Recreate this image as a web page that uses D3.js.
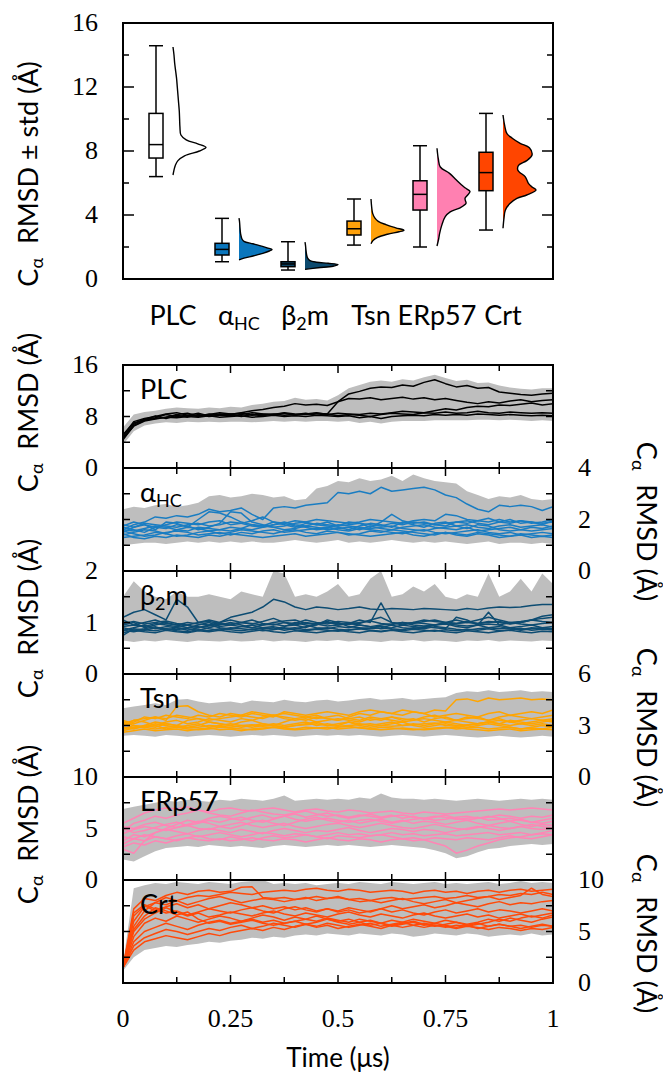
<!DOCTYPE html>
<html><head><meta charset="utf-8">
<script src="https://cdn.jsdelivr.net/npm/d3@7"></script>
<style>body{margin:0;background:#fff}svg{display:block}</style>
</head><body>
<svg id="chart" width="663" height="1078"></svg>
<script>
// ---------------- DATA ----------------
const categories = ["PLC", "αHC", "β2m", "Tsn", "ERp57", "Crt"];
const boxColors = ["#ffffff", "#0a76bd", "#0c4a6e", "#ffa10a", "#ff80b1", "#ff4500"];
const lineColors = ["#000000", "#1a7dc2", "#0d4c72", "#ffa500", "#ff85b5", "#ff4a0a"];
// [lower whisker, q1, median, q3, upper whisker]
const boxStats = [
  [6.4, 7.56, 8.4, 10.35, 14.58],
  [1.08, 1.5, 1.85, 2.23, 3.79],
  [0.56, 0.77, 0.94, 1.08, 2.33],
  [2.12, 2.75, 3.14, 3.62, 5.0],
  [2.0, 4.31, 5.29, 6.14, 8.33],
  [3.06, 5.52, 6.65, 7.92, 10.35]
];
// half-violin density: [value, relative width]
const violinPLC = [[6.5,0],[6.8,0.03],[7.1,0.07],[7.4,0.15],[7.7,0.35],[8.0,0.8],[8.23,1.0],[8.45,0.75],[8.7,0.4],[9.0,0.24],[9.5,0.21],[10.0,0.2],[10.5,0.19],[11.0,0.17],[11.5,0.15],[12.0,0.13],[12.5,0.11],[13.0,0.08],[13.5,0.05],[14.0,0.03],[14.5,0]];
const violinHC = [[1.2,0],[1.3,0.15],[1.45,0.45],[1.6,0.72],[1.75,0.92],[1.85,1.0],[1.95,0.85],[2.1,0.6],[2.2,0.42],[2.35,0.15],[2.5,0.09],[2.8,0.05],[3.2,0.03],[3.6,0.015],[3.8,0]];
const violinB2m = [[0.6,0],[0.7,0.4],[0.8,0.85],[0.9,1.0],[0.98,0.7],[1.05,0.35],[1.15,0.15],[1.3,0.08],[1.5,0.05],[1.8,0.03],[2.1,0.015],[2.3,0]];
const violinTsn = [[2.2,0],[2.4,0.06],[2.6,0.2],[2.8,0.5],[2.95,0.85],[3.05,1.0],[3.2,0.75],[3.4,0.45],[3.6,0.22],[3.8,0.12],[4.1,0.05],[4.5,0.02],[5.0,0]];
const violinERp57 = [[2.06,0],[2.5,0.05],[2.85,0.08],[3.4,0.15],[3.9,0.25],[4.2,0.4],[4.45,0.7],[4.73,0.88],[4.9,0.86],[5.05,0.85],[5.25,0.93],[5.47,1.0],[5.7,0.85],[5.9,0.73],[6.2,0.58],[6.6,0.38],[7.0,0.1],[7.5,0.04],[8.17,0]];
const violinCrt = [[3.17,0],[3.8,0.03],[4.3,0.07],[4.7,0.2],[5.04,0.42],[5.25,0.72],[5.56,1.0],[5.75,0.88],[5.98,0.77],[6.2,0.72],[6.4,0.67],[6.8,0.45],[7.1,0.47],[7.4,0.72],[7.75,0.88],[8.2,0.8],[8.48,0.52],[8.8,0.28],[9.08,0.12],[9.6,0.05],[10.25,0]];
const violins = [violinPLC, violinHC, violinB2m, violinTsn, violinERp57, violinCrt];
const topTicks = [0, 4, 8, 12, 16];

const times = [0,0.025,0.05,0.075,0.1,0.125,0.15,0.175,0.2,0.225,0.25,0.275,0.3,0.325,0.35,0.375,0.4,0.425,0.45,0.475,0.5,0.525,0.55,0.575,0.6,0.625,0.65,0.675,0.7,0.725,0.75,0.775,0.8,0.825,0.85,0.875,0.9,0.925,0.95,0.975,1];
const timeTicks = [0, 0.25, 0.5, 0.75, 1];

const plcLines = [
 [4.6,6.5,7.3,7.6,7.9,7.8,8.0,7.9,8.1,7.9,8.0,8.1,7.9,8.0,8.2,8.0,8.1,8.0,8.2,8.1,8.0,8.1,7.8,8.0,7.7,8.0,8.1,8.2,8.1,8.3,8.2,8.3,8.2,8.4,8.3,8.2,8.3,8.2,8.1,8.2,8.1],
 [5.2,7.0,7.5,8.1,7.7,8.2,7.9,8.3,8.0,8.2,8.4,8.0,8.3,8.1,8.4,8.2,8.3,8.5,8.2,8.4,8.1,8.3,8.2,8.0,8.3,8.5,8.4,8.3,8.6,8.5,8.7,8.5,8.6,8.8,8.6,8.5,8.7,8.6,8.5,8.6,8.5],
 [4.8,6.8,7.6,7.8,8.3,8.0,8.2,8.0,8.4,8.2,8.1,8.3,8.6,8.4,8.3,8.5,8.2,8.4,8.6,8.3,8.5,8.4,8.3,8.5,8.4,8.6,8.8,8.7,8.6,8.9,9.2,9.0,9.4,9.6,9.5,9.8,9.7,9.9,10.1,9.8,10.0],
 [5.0,7.2,7.7,8.0,8.4,8.6,8.2,8.5,8.1,8.4,8.3,8.6,8.9,9.1,9.4,9.6,10.0,9.8,9.9,9.7,10.3,10.8,10.7,10.9,10.6,10.8,11.0,10.7,10.9,10.6,10.8,10.5,10.2,10.0,10.3,10.1,10.4,10.6,10.3,10.5,10.6],
 [4.4,6.6,7.4,7.7,7.9,8.3,8.5,8.1,8.3,8.6,8.4,8.5,8.2,8.4,8.3,8.6,8.4,8.3,8.5,8.4,10.3,11.5,11.9,12.4,12.6,12.5,12.9,12.7,13.3,13.7,13.1,12.6,12.8,12.4,12.5,11.8,11.6,11.4,11.3,11.5,11.6]
];
const plcUpper = [6.3,8.3,8.7,8.9,9.2,9.4,9.3,9.2,9.4,9.3,9.5,9.4,9.8,10.0,10.3,10.4,10.9,10.6,10.7,10.5,11.3,12.4,12.9,13.4,13.6,13.4,13.8,13.6,14.1,14.5,14.0,13.5,13.7,13.2,13.3,12.8,12.5,12.3,12.2,12.4,12.4];
const plcLower = [3.6,5.7,6.6,6.9,7.1,7.0,7.2,7.1,7.2,7.1,7.2,7.2,7.1,7.2,7.3,7.2,7.3,7.2,7.3,7.3,7.2,7.3,7.0,7.2,6.9,7.2,7.3,7.3,7.3,7.4,7.4,7.4,7.4,7.5,7.5,7.4,7.5,7.4,7.3,7.4,7.3];

const hcLines = [
 [1.6,1.8,1.9,2.1,2.05,2.15,2.1,2.2,2.4,2.3,2.35,2.45,2.2,2.0,2.45,2.5,2.45,2.55,2.6,2.65,3.05,3.0,3.1,3.0,3.25,3.1,3.15,3.2,3.25,3.15,2.95,2.85,2.6,2.4,2.3,2.55,2.5,2.55,2.5,2.35,2.5],
 [1.5,1.7,1.8,1.6,1.9,1.85,1.7,2.0,2.3,2.25,2.1,1.9,1.8,1.75,1.9,1.8,1.7,1.85,1.8,1.9,1.75,1.8,1.85,1.7,1.9,2.2,1.95,1.85,1.9,1.8,1.75,1.9,1.95,1.85,1.8,1.9,2.0,1.85,1.9,1.8,1.95],
 [1.7,1.6,1.5,1.7,1.65,1.8,1.75,1.6,1.7,1.85,2.3,2.25,1.9,1.8,1.7,1.75,1.85,1.9,1.8,1.75,1.7,1.6,1.75,1.85,1.8,1.7,1.9,1.8,1.7,1.85,1.9,1.75,1.8,1.7,1.65,1.75,1.8,1.7,1.75,1.8,1.7],
 [1.4,1.5,1.6,1.55,1.45,1.6,1.7,1.65,1.55,1.6,1.7,1.65,1.8,1.75,1.7,1.6,1.65,1.75,1.7,1.6,1.65,1.7,1.6,1.75,1.65,1.6,1.7,1.75,1.8,1.7,1.65,1.6,1.7,1.55,1.6,1.65,1.7,1.6,1.55,1.6,1.65],
 [1.3,1.35,1.4,1.5,1.45,1.35,1.4,1.5,1.55,1.45,1.5,1.6,1.55,1.5,1.45,1.55,1.6,1.5,1.45,1.55,1.5,1.4,1.45,1.55,1.5,1.6,1.55,1.5,1.45,1.4,1.5,1.45,1.4,1.5,1.45,1.4,1.35,1.45,1.4,1.35,1.4],
 [1.75,1.9,1.8,1.7,1.8,1.9,1.85,1.8,1.9,1.95,1.8,1.85,1.95,2.1,1.9,1.85,1.95,1.9,2.0,1.95,1.9,1.85,1.9,2.0,1.95,1.9,1.85,1.95,2.0,1.95,2.2,2.15,2.0,1.95,2.05,1.9,1.85,1.95,1.9,1.85,1.9],
 [1.55,1.45,1.35,1.4,1.5,1.55,1.5,1.4,1.45,1.5,1.4,1.5,1.45,1.55,1.6,1.5,1.55,1.6,1.65,1.7,1.6,1.55,1.65,1.6,1.55,1.5,1.45,1.55,1.6,1.5,1.45,1.5,1.55,1.6,1.5,1.45,1.5,1.4,1.45,1.5,1.45],
 [1.6,1.55,1.65,1.75,1.7,1.6,1.55,1.7,1.65,1.6,1.55,1.65,1.6,1.7,1.8,1.85,1.75,1.7,1.6,1.65,1.8,1.75,1.7,1.65,1.7,1.75,1.65,1.6,1.55,1.65,1.7,1.75,1.65,1.8,1.75,1.6,1.55,1.6,1.7,1.65,1.75],
 [1.45,1.3,1.25,1.35,1.3,1.4,1.35,1.3,1.4,1.35,1.45,1.4,1.35,1.3,1.35,1.4,1.45,1.35,1.4,1.45,1.5,1.45,1.4,1.35,1.4,1.45,1.5,1.4,1.35,1.45,1.5,1.4,1.35,1.45,1.4,1.3,1.35,1.4,1.3,1.35,1.3],
 [1.8,1.7,1.85,1.8,1.75,1.7,1.8,1.85,1.75,1.8,1.9,1.85,1.75,1.7,1.8,1.9,1.8,1.75,1.85,1.8,1.75,1.9,1.85,1.8,1.75,1.85,1.8,1.9,1.85,1.8,1.85,1.9,1.85,1.95,1.9,2.0,1.9,1.95,1.85,1.9,2.0]
];
const hcUpper = [2.4,2.5,2.45,2.55,2.6,2.5,2.55,2.65,2.9,2.95,2.85,2.9,3.0,2.95,2.85,2.9,2.75,2.8,3.2,3.3,3.5,3.45,3.6,3.5,3.55,3.7,3.5,3.75,3.6,3.5,3.45,3.4,3.1,2.95,2.8,2.9,2.85,2.95,2.8,2.75,2.8];
const hcLower = [1.0,1.05,1.1,1.1,1.05,1.1,1.15,1.1,1.15,1.1,1.15,1.1,1.15,1.1,1.1,1.15,1.2,1.15,1.1,1.15,1.2,1.1,1.15,1.1,1.15,1.2,1.15,1.1,1.15,1.1,1.15,1.1,1.05,1.1,1.15,1.05,1.1,1.1,1.05,1.1,1.05];

const b2mLines = [
 [1.1,1.2,1.25,1.15,1.05,1.45,1.3,1.0,1.05,1.0,1.1,1.15,1.2,1.3,1.45,1.4,1.3,1.25,1.3,1.28,1.25,1.27,1.3,1.26,1.25,1.27,1.26,1.25,1.27,1.26,1.25,1.24,1.27,1.25,1.28,1.3,1.29,1.3,1.33,1.35,1.35],
 [0.95,1.0,0.9,0.95,1.0,0.95,0.9,0.95,1.0,0.92,0.95,1.0,1.05,0.98,0.95,1.0,0.95,0.9,0.98,1.02,0.95,0.98,1.05,1.0,1.38,1.0,0.95,1.0,0.98,0.95,1.0,1.05,1.0,0.98,1.02,1.0,0.97,1.0,1.05,1.02,1.0],
 [0.85,0.9,0.95,0.88,0.92,0.9,0.85,0.9,0.95,0.9,0.88,0.92,0.95,0.9,0.87,0.92,1.0,0.95,0.9,0.88,0.92,0.9,0.95,0.92,0.88,0.9,0.95,0.92,0.9,0.95,0.98,0.92,0.9,0.95,1.2,0.95,0.9,0.92,0.95,0.9,0.92],
 [0.9,0.85,0.88,0.92,0.85,0.9,0.88,0.85,0.9,0.95,1.0,0.95,0.9,0.88,0.9,0.85,0.88,0.92,0.95,1.05,1.0,0.92,0.9,0.88,0.9,0.95,0.9,0.88,0.92,0.9,0.88,1.1,1.05,0.95,0.9,0.88,0.9,0.85,0.88,0.9,0.88],
 [0.8,0.85,0.82,0.8,0.85,0.82,0.8,0.84,0.82,0.85,0.82,0.8,0.83,0.86,0.82,0.8,0.84,0.82,0.8,0.83,0.85,0.82,0.8,0.84,0.82,0.85,0.82,0.8,0.83,0.85,0.82,0.8,0.84,0.82,0.8,0.83,0.85,0.82,0.8,0.83,0.82],
 [1.05,0.95,1.0,1.05,0.98,0.95,1.0,0.97,0.95,1.0,1.05,1.0,0.97,1.02,1.08,1.0,0.98,1.05,1.0,0.97,1.02,1.0,0.98,1.05,1.1,1.0,0.97,1.0,1.05,1.02,1.0,0.98,1.0,1.05,1.1,1.05,1.0,1.02,1.05,1.08,1.1],
 [0.75,0.88,0.85,0.9,0.88,0.86,0.9,0.92,0.88,0.85,0.9,0.88,0.86,0.9,0.92,0.88,0.9,0.86,0.88,0.9,0.87,0.85,0.88,0.9,0.93,0.88,0.86,0.9,0.88,0.92,0.9,0.87,0.85,0.88,0.9,0.92,0.88,0.86,0.9,0.88,0.86],
 [0.92,0.95,0.92,0.98,0.95,0.92,0.95,0.9,0.93,0.97,0.95,0.92,0.9,0.95,0.97,0.93,0.95,1.0,0.97,0.93,0.95,0.98,0.95,0.92,0.95,0.97,1.0,0.95,0.93,0.95,0.97,0.95,0.93,0.95,0.97,0.95,1.0,0.97,0.95,0.98,1.0],
 [0.85,0.82,0.86,0.84,0.88,0.84,0.82,0.86,0.84,0.88,0.86,0.84,0.87,0.84,0.86,0.9,0.86,0.84,0.87,0.85,0.83,0.86,0.88,0.85,0.83,0.86,0.84,0.87,0.85,0.83,0.86,0.84,0.87,0.85,0.88,0.84,0.86,0.89,0.85,0.87,0.86],
 [0.98,1.02,0.97,1.0,1.03,0.98,0.95,1.0,1.02,0.98,0.97,1.0,0.98,0.95,1.0,1.03,1.05,0.98,0.96,1.0,0.98,0.96,1.0,1.03,0.98,0.96,1.0,0.98,1.02,1.05,1.0,0.98,1.02,0.98,1.0,1.02,0.98,1.0,1.05,1.12,1.15]
];
const b2mUpper = [1.5,1.8,1.6,1.5,1.45,1.6,1.5,1.5,1.55,1.5,1.45,1.6,1.55,1.5,2.0,1.95,1.5,1.55,1.5,1.6,1.75,1.5,1.55,1.85,2.0,1.5,1.55,1.7,1.6,1.75,1.5,1.45,1.55,1.5,1.95,1.5,1.6,1.85,1.6,1.95,1.75];
const b2mLower = [0.65,0.62,0.65,0.63,0.66,0.64,0.62,0.65,0.64,0.63,0.65,0.63,0.64,0.66,0.63,0.65,0.64,0.62,0.65,0.64,0.66,0.63,0.65,0.64,0.62,0.65,0.64,0.66,0.63,0.65,0.64,0.62,0.65,0.64,0.66,0.63,0.65,0.64,0.63,0.65,0.64];

const tsnLines = [
 [3.0,3.2,3.5,3.4,3.6,3.5,3.4,3.6,3.5,3.7,3.6,3.5,3.7,3.6,3.5,3.8,3.7,3.6,3.7,3.8,3.7,3.6,3.8,3.9,3.8,3.7,3.9,3.8,3.7,3.9,3.85,4.5,4.55,4.4,4.6,4.5,4.55,4.6,4.5,4.55,4.5],
 [3.1,3.3,3.4,3.5,3.3,4.1,4.15,3.8,3.6,3.5,3.7,3.6,3.5,3.4,3.6,3.5,3.4,3.3,3.5,3.4,3.3,3.4,3.5,3.3,3.4,3.5,3.3,3.4,3.2,3.4,3.5,3.3,3.4,3.5,3.3,3.4,3.2,3.3,3.4,3.3,3.4],
 [2.8,2.9,3.0,2.9,3.1,3.0,2.9,3.0,3.2,3.1,3.0,3.2,3.3,3.1,3.0,3.2,3.4,3.5,3.6,3.4,3.3,3.5,3.7,3.6,3.8,3.7,3.6,3.8,3.7,3.5,3.6,3.7,3.6,3.5,3.7,3.8,3.6,3.7,3.8,3.7,3.9],
 [3.2,3.0,2.9,3.1,3.0,2.9,3.0,3.1,2.9,3.0,3.1,3.0,2.9,3.0,3.1,3.0,3.1,3.2,3.0,3.1,3.0,3.2,3.1,3.0,3.1,3.2,3.0,3.1,3.0,3.1,3.2,3.1,3.0,3.1,3.2,3.1,3.0,3.1,3.0,3.1,3.0],
 [2.6,2.7,2.8,2.7,2.75,2.8,2.7,2.8,2.85,2.75,2.8,2.7,2.8,2.85,2.9,2.8,2.75,2.8,2.85,2.9,2.8,2.85,2.9,2.8,2.75,2.8,2.85,2.8,2.75,2.8,2.85,2.9,2.8,2.75,2.7,2.75,2.8,2.7,2.75,2.8,2.75],
 [3.0,3.3,3.2,3.0,3.2,3.3,3.1,3.2,3.4,3.3,3.2,3.4,3.3,3.5,3.6,3.4,3.3,3.4,3.2,3.3,3.4,3.3,3.2,3.4,3.3,3.5,3.4,3.3,3.5,3.6,3.4,3.3,3.5,3.4,3.3,3.5,3.6,3.5,3.4,3.5,3.6],
 [2.9,2.8,3.0,3.2,3.1,3.0,3.3,3.4,3.2,3.1,3.0,2.9,3.0,3.1,3.0,2.9,3.0,3.1,3.2,3.0,3.1,3.2,3.0,2.9,3.0,3.1,3.2,3.0,2.9,3.0,3.1,3.0,2.9,3.0,3.1,3.0,2.9,2.8,2.9,3.0,2.9],
 [2.7,2.85,2.9,2.8,2.9,2.95,2.85,2.9,3.0,2.95,2.9,3.0,3.05,2.95,3.0,2.9,3.0,3.05,3.1,3.0,2.95,3.0,3.05,3.1,3.0,2.95,3.0,3.05,3.1,3.15,3.0,2.95,3.05,3.1,3.2,3.1,3.3,3.2,3.1,3.2,3.3],
 [3.3,3.1,3.3,3.5,3.4,3.6,3.5,3.4,3.3,3.4,3.5,3.6,3.8,3.7,3.6,3.7,3.6,3.5,3.4,3.5,3.6,3.4,3.3,3.5,3.4,3.3,3.2,3.3,3.4,3.3,3.2,3.3,3.2,3.1,3.2,3.3,3.2,3.1,3.2,3.3,3.2],
 [2.8,3.0,2.9,3.0,2.8,2.9,2.8,2.75,2.8,2.9,2.85,2.8,2.75,2.8,2.9,2.85,2.8,2.9,2.85,2.8,2.9,2.95,2.85,2.8,2.9,2.85,2.8,2.75,2.8,2.85,2.9,2.8,2.85,2.9,2.8,2.85,2.9,2.8,2.85,2.8,2.9]
];
const tsnUpper = [4.0,4.1,4.2,4.3,4.2,4.5,4.55,4.4,4.3,4.35,4.4,4.3,4.45,4.4,4.35,4.5,4.4,4.35,4.45,4.5,4.4,4.45,4.55,4.6,4.5,4.55,4.6,4.5,4.55,4.6,4.65,4.9,5.0,4.95,5.05,4.95,5.0,5.05,4.95,5.0,4.95];
const tsnLower = [2.4,2.45,2.4,2.35,2.45,2.4,2.35,2.4,2.45,2.4,2.35,2.4,2.45,2.4,2.45,2.4,2.35,2.4,2.45,2.4,2.45,2.4,2.45,2.4,2.35,2.4,2.45,2.4,2.35,2.4,2.45,2.4,2.35,2.3,2.35,2.4,2.35,2.3,2.35,2.4,2.35];

const erpLines = [
 [5.5,6.0,6.5,6.8,7.0,6.9,7.1,6.8,6.6,6.9,7.0,6.8,6.7,6.9,7.0,6.8,6.6,6.8,6.9,6.7,6.6,6.8,6.7,6.5,6.6,6.7,6.5,6.4,6.6,6.5,6.4,6.5,6.6,6.7,6.8,6.9,6.8,6.9,7.0,6.9,6.8],
 [4.8,5.5,5.8,6.2,6.0,6.3,6.5,6.8,6.5,6.3,6.2,6.5,6.8,6.6,6.4,6.3,6.5,6.7,6.4,6.2,6.3,6.1,6.3,6.2,6.0,6.2,6.3,6.1,6.0,6.2,6.1,5.9,6.0,6.1,5.8,5.9,6.0,5.8,5.6,5.8,6.0],
 [3.0,2.6,3.8,4.6,5.0,5.4,5.8,5.6,6.0,6.2,6.0,5.8,6.1,6.3,6.0,6.2,6.4,6.1,6.3,6.5,6.2,6.0,6.2,6.4,6.1,6.3,6.0,6.2,5.9,6.1,6.3,6.0,5.8,6.0,6.2,6.0,5.7,5.9,5.6,5.5,5.7],
 [5.2,5.0,5.4,5.6,5.3,5.1,5.4,5.7,5.5,5.2,5.0,5.3,5.6,5.8,5.5,5.3,5.6,5.9,6.1,5.8,5.6,5.8,5.5,5.7,5.9,5.6,5.8,5.5,5.7,5.6,5.4,5.6,5.8,5.5,5.3,5.5,5.7,5.4,5.2,5.4,5.3],
 [4.5,4.9,5.2,5.0,4.8,5.1,5.3,5.0,4.9,5.2,5.4,5.6,5.3,5.1,5.3,5.5,5.2,5.0,5.2,5.4,5.5,5.3,5.1,5.3,5.5,5.3,5.1,5.0,5.2,5.4,5.2,5.0,4.9,5.1,5.3,5.1,5.0,5.2,5.0,4.9,5.1],
 [3.8,4.4,4.2,4.6,4.9,4.7,4.5,4.8,5.0,4.8,4.6,4.9,4.7,4.5,4.8,5.0,4.8,4.6,4.8,4.7,4.9,5.1,4.8,4.6,4.8,5.0,4.9,4.7,4.9,4.8,4.6,4.8,5.0,5.2,5.0,4.8,5.0,5.2,5.4,5.2,5.0],
 [4.2,4.0,4.4,4.2,4.0,4.3,4.5,4.2,4.4,4.6,4.4,4.2,4.4,4.6,4.5,4.3,4.5,4.4,4.2,4.4,4.6,4.4,4.5,4.3,4.4,4.6,4.4,4.5,4.3,4.4,4.5,4.3,4.4,4.5,4.6,4.4,4.5,4.6,4.4,4.5,4.4],
 [3.5,4.0,3.8,4.2,4.0,3.8,4.1,4.3,4.0,3.9,4.2,4.0,3.8,4.1,4.3,4.1,4.2,4.4,4.2,4.0,4.3,4.2,4.1,4.3,4.4,4.2,4.0,4.1,3.9,3.6,3.3,2.6,2.9,3.3,3.6,3.9,4.1,4.2,4.4,4.6,4.8],
 [5.0,4.6,4.8,5.1,5.4,5.6,5.3,5.5,5.8,5.6,5.9,6.1,5.8,5.6,5.9,6.2,5.9,5.7,5.9,6.0,5.8,5.6,5.8,5.9,5.7,5.5,5.7,5.9,6.0,5.8,5.9,6.1,6.2,6.0,6.1,6.3,6.2,6.0,6.2,6.1,6.3],
 [3.2,3.6,3.4,3.8,3.6,3.9,4.1,3.9,3.8,4.0,3.8,3.9,4.1,3.9,3.8,4.0,3.9,3.7,3.9,4.1,3.9,3.8,4.0,3.9,3.7,3.9,4.0,3.8,3.9,4.1,4.0,3.9,4.1,4.0,3.9,4.1,4.3,4.1,4.0,4.2,4.4]
];
const erpUpper = [6.9,7.1,7.3,7.5,7.7,7.6,7.8,7.7,7.6,7.8,7.7,7.9,7.8,7.7,7.9,8.2,7.7,7.8,7.9,7.8,7.9,7.8,8.0,7.9,8.4,8.0,7.9,7.9,7.8,7.9,7.8,7.7,7.8,7.9,7.8,7.7,7.8,7.9,7.8,7.9,7.8];
const erpLower = [2.0,1.8,2.3,2.8,3.1,3.2,3.3,3.2,3.4,3.3,3.2,3.3,3.2,3.1,3.3,3.4,3.3,3.2,3.3,3.4,3.3,3.4,3.3,3.2,3.3,3.4,3.3,3.2,3.1,2.9,2.6,2.1,2.3,2.7,3.0,3.1,3.3,3.4,3.5,3.4,3.5];

const crtLines = [
 [1.5,7.2,8.2,8.0,8.5,8.8,8.6,8.9,9.0,8.8,8.9,9.3,9.35,8.3,8.2,8.3,8.1,8.2,8.4,8.2,8.3,8.1,8.2,8.0,8.2,8.3,8.1,8.2,8.3,8.4,8.2,8.3,8.5,8.3,8.4,8.6,8.5,8.7,8.6,8.8,8.6],
 [1.5,6.0,7.4,7.8,7.6,8.0,8.3,8.5,8.4,8.6,8.8,8.7,8.6,8.8,8.9,9.0,8.9,9.1,9.2,9.0,8.9,9.1,9.0,8.8,8.9,9.0,8.9,8.7,8.9,9.0,8.8,8.9,8.7,8.9,9.0,8.8,9.0,9.1,8.9,9.0,9.1],
 [1.5,5.5,7.0,7.8,8.3,8.0,7.6,7.9,8.2,8.4,8.1,7.8,8.0,8.2,8.1,7.9,8.1,8.3,8.0,8.2,8.4,8.1,7.9,8.0,7.8,8.0,8.2,7.9,7.7,7.9,8.1,7.8,8.0,8.2,8.4,8.1,8.3,8.5,9.2,8.6,8.4],
 [1.5,6.8,7.6,7.2,6.8,7.0,6.6,6.9,7.2,7.0,6.8,7.1,7.3,7.0,6.8,7.2,7.4,7.1,6.9,7.2,7.0,7.3,7.1,6.9,7.2,7.5,7.2,7.4,7.6,7.3,7.5,7.8,7.6,7.4,7.7,7.9,7.6,7.8,7.7,7.9,8.0],
 [1.5,5.0,6.2,6.8,7.3,6.9,6.5,6.8,6.4,6.6,6.9,6.7,6.5,6.8,7.0,6.7,6.5,6.8,6.6,6.4,6.7,6.9,6.6,6.4,6.7,6.5,6.3,6.6,6.8,6.5,6.3,6.5,6.7,6.4,6.6,6.3,6.5,6.7,6.4,6.6,6.8],
 [1.5,4.5,5.8,6.3,6.0,6.5,6.2,5.9,6.2,6.5,6.3,6.0,6.3,6.6,6.4,6.1,6.4,6.2,6.0,6.3,6.1,5.9,6.2,6.0,5.8,6.1,5.9,6.2,6.0,5.8,6.1,5.9,5.7,5.9,6.2,6.0,6.3,6.1,5.9,6.2,6.4],
 [1.5,4.0,5.0,5.4,5.8,5.5,5.2,5.6,5.9,6.1,5.8,6.0,6.2,5.9,6.1,5.8,6.0,6.2,6.5,6.2,6.0,6.2,5.9,6.1,5.8,5.6,5.8,6.0,5.7,5.5,5.7,5.9,5.6,5.8,5.5,5.7,5.5,5.6,5.4,5.6,5.5],
 [1.5,3.6,4.4,4.8,5.2,5.0,4.7,5.0,5.3,5.1,5.4,5.6,5.3,5.5,5.8,5.6,5.4,5.7,5.5,5.8,5.6,5.4,5.6,5.8,5.5,5.7,5.9,5.6,5.4,5.6,5.5,5.3,5.5,5.4,5.2,5.4,5.3,5.1,5.3,5.2,5.4],
 [1.5,3.2,4.0,4.3,4.6,4.4,4.2,4.5,4.8,4.6,4.9,5.1,5.3,5.1,5.4,5.2,5.5,5.7,5.4,5.6,5.3,5.5,5.7,5.5,5.3,5.6,5.4,5.6,5.8,5.6,5.4,5.6,5.5,5.7,5.9,6.2,6.0,6.3,6.5,6.3,6.6],
 [1.5,6.5,7.5,7.0,7.4,7.7,7.3,7.6,7.2,7.5,7.8,7.6,7.3,7.5,7.2,7.4,7.1,7.3,7.0,7.2,6.9,7.1,6.8,7.0,7.2,6.9,7.1,6.8,6.6,6.9,7.1,6.8,7.0,7.2,6.9,7.1,7.0,6.8,7.0,7.2,7.0],
 [1.5,5.2,6.5,7.3,7.0,6.6,6.9,6.2,5.8,6.0,5.7,5.9,6.1,5.8,5.6,5.8,6.0,5.7,5.9,6.2,5.9,5.7,5.9,5.6,5.8,5.5,5.7,5.9,5.6,5.8,5.6,5.4,5.6,5.3,5.5,5.7,5.5,5.3,5.5,5.7,5.5]
];
const crtUpper = [1.9,9.2,9.5,9.7,9.6,9.8,9.7,9.6,9.8,9.7,9.6,9.8,9.9,10.0,9.6,9.7,9.6,9.7,9.5,9.6,9.7,9.6,9.8,9.7,9.6,9.8,9.7,9.6,9.7,9.8,9.6,9.7,9.6,9.7,9.8,9.6,9.7,9.9,9.7,9.8,9.7];
const crtLower = [1.2,2.5,3.2,3.4,3.6,3.5,3.7,3.8,4.0,3.9,4.1,4.2,4.4,4.3,4.5,4.4,4.6,4.7,4.6,4.8,4.7,4.6,4.8,4.7,4.6,4.8,4.7,4.5,4.6,4.8,4.7,4.6,4.8,4.7,4.5,4.6,4.7,4.6,4.8,4.6,4.7];

const panelMax = [16, 4, 2, 6, 10, 10];
const panelLabels = [[0,8,16],[0,2,4],[0,1,2],[0,3,6],[0,5,10],[0,5,10]];
const panelTicks = [[4,8,12],[1,2,3],[0.5,1,1.5],[1.5,3,4.5],[2.5,5,7.5],[2.5,5,7.5]];
const panelSide = ["left","right","left","right","left","right"];
const panelLines = [plcLines, hcLines, b2mLines, tsnLines, erpLines, crtLines];
const panelUpper = [plcUpper, hcUpper, b2mUpper, tsnUpper, erpUpper, crtUpper];
const panelLower = [plcLower, hcLower, b2mLower, tsnLower, erpLower, crtLower];

// ---------------- DRAWING ----------------
const svg = d3.select("#chart");
const numFont = "'Liberation Serif', serif";
const txtFont = "Lato, 'Open Sans', sans-serif";
const numSize = 26, txtSize = 27;

function labelText(sel, name) {
  if (name === "αHC") {
    sel.append("tspan").text("α");
    sel.append("tspan").attr("font-size", 18).attr("dy", 5).text("HC");
  } else if (name === "β2m") {
    sel.append("tspan").text("β");
    sel.append("tspan").attr("font-size", 18).attr("dy", 5).text("2");
    sel.append("tspan").attr("dy", -5).text("m");
  } else sel.text(name);
}
function yTitle(x, y, rot, extra) {
  const t = svg.append("text")
    .attr("transform", `translate(${x},${y}) rotate(${rot})`)
    .attr("text-anchor", "middle").attr("font-family", txtFont).attr("font-size", 27);
  t.append("tspan").text("C");
  t.append("tspan").attr("font-size", 18).attr("dy", 5).text("α");
  t.append("tspan").attr("dy", -5).text("\u00a0 RMSD" + extra + " (Å)");
}

// ---- Top panel ----
const T = {l: 123, r: 553, t: 23, b: 279};
const yTop = d3.scaleLinear().domain([0, 16]).range([T.b, T.t]);
const xCat = d3.scaleLinear().domain([0, 5]).range([173, 503]);
const boxOff = 17, boxW = 14, vW = 33;
const topG = svg.append("g");

violins.forEach((v, i) => {
  const vx = xCat(i);
  const area = d3.area().y(d => yTop(d[0])).x0(vx).x1(d => vx + d[1] * vW).curve(d3.curveCatmullRom.alpha(0.5));
  const line = d3.line().y(d => yTop(d[0])).x(d => vx + d[1] * vW).curve(d3.curveCatmullRom.alpha(0.5));
  if (i > 0) topG.append("path").attr("d", area(v)).attr("fill", boxColors[i]);
  topG.append("path").attr("d", line(v)).attr("fill", "none").attr("stroke", "#000").attr("stroke-width", 1.4);
});
boxStats.forEach((s, i) => {
  const cx = xCat(i) - boxOff;
  const g = topG.append("g").attr("stroke", "#000").attr("stroke-width", 1.5);
  g.append("line").attr("x1", cx).attr("x2", cx).attr("y1", yTop(s[0])).attr("y2", yTop(s[1]));
  g.append("line").attr("x1", cx).attr("x2", cx).attr("y1", yTop(s[3])).attr("y2", yTop(s[4]));
  g.append("line").attr("x1", cx - boxW / 2).attr("x2", cx + boxW / 2).attr("y1", yTop(s[0])).attr("y2", yTop(s[0]));
  g.append("line").attr("x1", cx - boxW / 2).attr("x2", cx + boxW / 2).attr("y1", yTop(s[4])).attr("y2", yTop(s[4]));
  g.append("rect").attr("x", cx - boxW / 2).attr("width", boxW).attr("y", yTop(s[3])).attr("height", yTop(s[1]) - yTop(s[3])).attr("fill", boxColors[i]);
  g.append("line").attr("x1", cx - boxW / 2).attr("x2", cx + boxW / 2).attr("y1", yTop(s[2])).attr("y2", yTop(s[2]));
});
topG.append("rect").attr("x", T.l).attr("y", T.t).attr("width", T.r - T.l).attr("height", T.b - T.t)
  .attr("fill", "none").attr("stroke", "#000").attr("stroke-width", 2);
d3.range(2, 16, 2).forEach(v => {
  const len = v % 4 === 0 ? 11 : 6;
  topG.append("line").attr("x1", T.l).attr("x2", T.l + len).attr("y1", yTop(v)).attr("y2", yTop(v)).attr("stroke", "#000").attr("stroke-width", 1.5);
  topG.append("line").attr("x1", T.r).attr("x2", T.r - len).attr("y1", yTop(v)).attr("y2", yTop(v)).attr("stroke", "#000").attr("stroke-width", 1.5);
});
topTicks.forEach(v => {
  topG.append("text").attr("x", 98).attr("y", yTop(v) + 8).attr("text-anchor", "end")
    .attr("font-family", numFont).attr("font-size", numSize).text(v);
});
categories.forEach((c, i) => {
  const t = topG.append("text").attr("x", xCat(i)).attr("y", 325).attr("text-anchor", "middle")
    .attr("font-family", txtFont).attr("font-size", txtSize);
  labelText(t, c);
});
yTitle(38, 174, -90, " ± std");

// ---- Bottom panels ----
const x = d3.scaleLinear().domain([0, 1]).range([123, 553]);
const P0 = 365, PH = 103;
const defs = svg.append("defs");
categories.forEach((c, k) => {
  const top = P0 + k * PH, bot = top + PH;
  const y = d3.scaleLinear().domain([0, panelMax[k]]).range([bot, top]);
  defs.append("clipPath").attr("id", "clip" + k).append("rect")
    .attr("x", x(0)).attr("y", top).attr("width", x(1) - x(0)).attr("height", PH);
  const g = svg.append("g").attr("clip-path", `url(#clip${k})`);
  const band = d3.area().x((d, i) => x(times[i])).y0((d, i) => y(panelLower[k][i])).y1((d, i) => y(panelUpper[k][i]));
  g.append("path").attr("d", band(times)).attr("fill", "#bebebe");
  const line = d3.line().x((d, i) => x(times[i])).y(d => y(d));
  panelLines[k].forEach(ln => {
    g.append("path").attr("d", line(ln)).attr("fill", "none")
      .attr("stroke", lineColors[k]).attr("stroke-width", 1.5).attr("stroke-linejoin", "round");
  });
  const f = svg.append("g").attr("stroke", "#000");
  f.append("rect").attr("x", x(0)).attr("y", top).attr("width", x(1) - x(0)).attr("height", PH)
    .attr("fill", "none").attr("stroke-width", 2);
  [0.125, 0.25, 0.375, 0.5, 0.625, 0.75, 0.875].forEach(t => {
    const len = (t * 4) % 1 === 0 ? 8 : 6;
    f.append("line").attr("x1", x(t)).attr("x2", x(t)).attr("y1", top).attr("y2", top + len).attr("stroke-width", 1.5);
    f.append("line").attr("x1", x(t)).attr("x2", x(t)).attr("y1", bot).attr("y2", bot - len).attr("stroke-width", 1.5);
  });
  panelTicks[k].forEach(v => {
    f.append("line").attr("x1", x(0)).attr("x2", x(0) + 7).attr("y1", y(v)).attr("y2", y(v)).attr("stroke-width", 1.5);
    f.append("line").attr("x1", x(1)).attr("x2", x(1) - 7).attr("y1", y(v)).attr("y2", y(v)).attr("stroke-width", 1.5);
  });
  const left = panelSide[k] === "left";
  panelLabels[k].forEach(v => {
    svg.append("text").attr("x", left ? 98 : 578).attr("y", y(v) + 8)
      .attr("text-anchor", left ? "end" : "start")
      .attr("font-family", numFont).attr("font-size", numSize).text(v);
  });
  const nm = svg.append("text").attr("x", 140).attr("y", top + 34)
    .attr("font-family", txtFont).attr("font-size", txtSize);
  labelText(nm, c);
  const cy = (top + bot) / 2;
  if (left) yTitle(38, cy - 4, -90, "");
  else yTitle(637, cy + 2, 90, "");
});
timeTicks.forEach(t => {
  svg.append("text").attr("x", x(t)).attr("y", 1027).attr("text-anchor", "middle")
    .attr("font-family", numFont).attr("font-size", numSize).text(t);
});
svg.append("text").attr("x", 338).attr("y", 1067).attr("text-anchor", "middle")
  .attr("font-family", txtFont).attr("font-size", 26).text("Time (μs)");
</script>
</body></html>
